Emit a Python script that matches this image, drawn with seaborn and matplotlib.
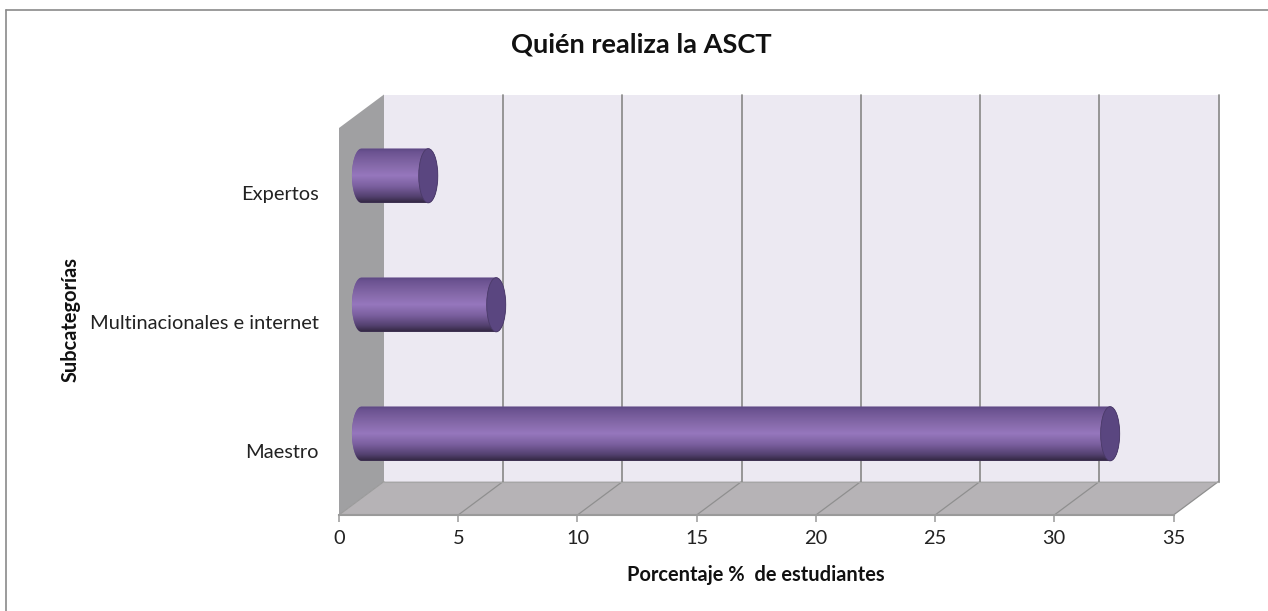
import numpy as np
import pandas as pd
import matplotlib
matplotlib.use("Agg")
import matplotlib.pyplot as plt
import seaborn as sns
from matplotlib.colors import LinearSegmentedColormap
from matplotlib.lines import Line2D
from matplotlib.patches import Ellipse, Polygon, Rectangle
from matplotlib.transforms import Affine2D, IdentityTransform

categories = ["Expertos", "Multinacionales e internet", "Maestro"]
percentages = [2.8, 5.65, 31.4]
x_ticks = [0, 5, 10, 15, 20, 25, 30, 35]

title_text = "Quién realiza la ASCT"
x_label = "Porcentaje %  de estudiantes"
y_label = "Subcategorías"

sns.set_theme(style="white")
plt.rcParams["font.family"] = ["Lato", "DejaVu Sans"]

W, H = 1268, 611
fig = plt.figure(figsize=(W / 100, H / 100), dpi=100, facecolor="white")
ax = fig.add_axes([339 / W, 1 - 515 / H, 834.5 / W, 387 / H])

df = pd.DataFrame({"categoria": categories, "porcentaje": percentages})
sns.barplot(data=df, x="porcentaje", y="categoria", order=categories,
            width=0.42, color="#7A5FA0", saturation=1, ax=ax, zorder=3)
ax.set_xlim(0, 35)
ax.set_ylim(2.5, -0.5)
ax.patch.set_visible(False)
for s in ("top", "left", "right"):
    ax.spines[s].set_visible(False)
ax.spines["bottom"].set_color("#9A9A9A")
ax.spines["bottom"].set_linewidth(1.5)
ax.set_xticks(x_ticks)
ax.tick_params(axis="x", length=5, width=1.1, color="#9A9A9A", pad=6,
               labelsize=14.4, labelcolor="#222222", bottom=True)
ax.tick_params(axis="y", length=0, pad=14.5, labelsize=14.4, labelcolor="#222222")
ax.set_xlabel(x_label, fontsize=14.4, fontweight="bold", color="#111111")
ax.set_ylabel("")
ax.xaxis.set_label_coords((756 - 339) / 834.5, -(575 - 515) / 387, transform=ax.transAxes)
ax.xaxis.label.set_verticalalignment("center")

fig.text(71 / W, 1 - 319 / H, y_label, rotation=90, ha="center", va="center",
         fontsize=14.4, fontweight="bold", color="#111111")
fig.text(641.5 / W, 1 - 44 / H, title_text, ha="center", va="center",
         fontsize=19.6, fontweight="bold", color="#111111")

# Oblique depth of the plot box, in pixels
DEPTH = np.array([45.0, 33.5])
fig.canvas.draw()


def proj(x, y, depth):
    return ax.transData.transform((x, y)) + depth * DEPTH


def face(points, color, z=0.5):
    ax.add_patch(Polygon(points, closed=True, facecolor=color, edgecolor="none",
                         transform=IdentityTransform(), clip_on=False, zorder=z))


def segment(a, b, z=1, lw=1.3, color="#8F8F8F"):
    ax.add_line(Line2D([a[0], b[0]], [a[1], b[1]], color=color, lw=lw,
                       transform=IdentityTransform(), clip_on=False, zorder=z))


y_top, y_bot = -0.5, 2.5
face([proj(0, y_bot, 1), proj(35, y_bot, 1), proj(35, y_top, 1), proj(0, y_top, 1)], "#ECE9F2")
face([proj(0, y_bot, 0), proj(0, y_bot, 1), proj(0, y_top, 1), proj(0, y_top, 0)], "#A0A0A2")
face([proj(0, y_bot, 0), proj(35, y_bot, 0), proj(35, y_bot, 1), proj(0, y_bot, 1)], "#B6B3B6")

for t in x_ticks[1:]:
    segment(proj(t, y_bot, 0), proj(t, y_bot, 1), lw=0.9)
    segment(proj(t, y_bot, 1), proj(t, y_top, 1))
segment(proj(0, y_bot, 0), proj(0, y_bot, 1), lw=0.8, color="#9A9A9A")
segment(proj(0, y_bot, 1), proj(35, y_bot, 1), lw=0.8, color="#A6A6A6")

# Cylinders sit halfway into the depth of the box
shift = ax.transData + Affine2D().translate(*(DEPTH * 0.5))
CAP_W = 0.8
shade = LinearSegmentedColormap.from_list(
    "cyl",
    [(0.00, "#5A4680"), (0.06, "#6A5290"), (0.30, "#8468A8"), (0.50, "#9677BD"),
     (0.70, "#7A5F9E"), (0.88, "#544170"), (1.00, "#30263F")],
)
gradient = np.linspace(0, 1, 256).reshape(-1, 1)
theta = np.linspace(0, np.pi, 60)

for bar in [p for p in ax.patches if isinstance(p, Rectangle)]:
    v, y0, h = bar.get_width(), bar.get_y(), bar.get_height()
    bar.set_transform(shift)
    bar.set_visible(False)
    yc = y0 + h / 2
    left = np.column_stack([-CAP_W / 2 * np.sin(theta), yc + h / 2 * np.cos(theta)])
    right = np.column_stack([v + CAP_W / 2 * np.sin(theta), yc - h / 2 * np.cos(theta)])
    body = Polygon(np.vstack([left, right]), closed=True, facecolor="#7A5FA0",
                   edgecolor="none", transform=shift, clip_on=False, zorder=3)
    ax.add_patch(body)
    im = ax.imshow(gradient, cmap=shade, aspect="auto", origin="upper",
                   extent=(-1, v + 1, y0 + h, y0), zorder=3.1, interpolation="bilinear")
    im.set_transform(shift)
    im.set_clip_path(body)
    ax.add_patch(Ellipse((v, yc), CAP_W, h, facecolor="#5A4680", edgecolor="#4A3A68",
                         lw=0.6, transform=shift, clip_on=False, zorder=3.2))

ax.set_xlim(0, 35)
ax.set_ylim(2.5, -0.5)

# Chart frame along the top and left edges
fig.add_artist(Line2D([6 / W, 6 / W], [0, 1 - 10 / H], color="#8A8A8A", lw=1.2))
fig.add_artist(Line2D([6 / W, 1], [1 - 10 / H, 1 - 10 / H], color="#8A8A8A", lw=1.2))

fig.savefig("out.png", dpi=100, facecolor="white")
